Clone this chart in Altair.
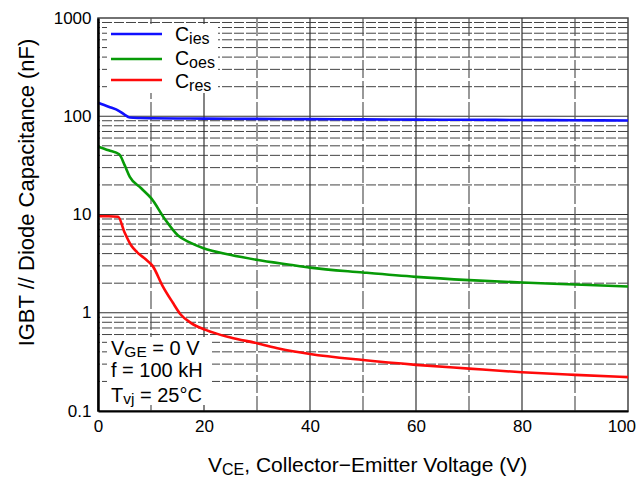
import altair as alt
import pandas as pd

FONT = "Liberation Sans"

# ---- data ----
V_ies = [0, 2, 4, 5, 6, 8, 10, 15, 20, 30, 40, 50, 60, 70, 80, 90, 100]
C_ies = [137, 125, 113, 104, 97, 96, 95.5, 95, 94.5, 94, 93.5, 93, 92.5, 92, 91.5, 91, 90.5]

V_oes = [0, 2, 4, 5, 6, 8.1, 10.1, 12.6, 15.1, 17.3, 19.9, 24.9, 29.9, 36.2, 40, 50, 60, 70, 80, 90, 100]
C_oes = [49, 45, 41, 32, 24.2, 18.6, 14.5, 9.0, 6.1, 5.2, 4.53, 3.89, 3.46, 3.08, 2.88, 2.57, 2.32, 2.15, 2.03, 1.94, 1.85]

V_res = [0, 2, 3.8, 5.0, 6.3, 7.4, 9.0, 10.3, 12.2, 14.1, 15.6, 17.5, 20.3, 25, 30, 34.3, 40, 50, 60, 70, 80, 90, 100]
C_res = [9.6, 9.6, 9.5, 6.6, 4.8, 4.12, 3.5, 3.0, 1.87, 1.27, 0.96, 0.79, 0.67, 0.56, 0.49, 0.43, 0.38, 0.33, 0.295, 0.27, 0.248, 0.233, 0.221]

series_names = ["Cies", "Coes", "Cres"]
series_colors = ["#1010ff", "#079a07", "#ff0a0a"]

x_ticks = [0, 20, 40, 60, 80, 100]
y_ticks = [0.1, 1, 10, 100, 1000]
y_major = [1, 10, 100]
y_minor = [m * 10 ** e for e in range(-1, 3) for m in range(2, 10)]
x_solid = [20, 40, 60, 80]
x_dashed = [10, 30, 50, 70, 90]

df = pd.concat([
    pd.DataFrame({"V": V_ies, "C": C_ies, "series": "Cies"}),
    pd.DataFrame({"V": V_oes, "C": C_oes, "series": "Coes"}),
    pd.DataFrame({"V": V_res, "C": C_res, "series": "Cres"}),
])

xscale = alt.Scale(domain=[0, 100], nice=False, zero=False)
yscale = alt.Scale(type="log", domain=[0.1, 1000], nice=False)

xaxis = alt.Axis(values=x_ticks, format="d", title=None, grid=False, ticks=False, tickSize=0,
                 labelFont=FONT, labelFontSize=17, labelColor="black", labelPadding=7,
                 labelAlign={"condition": {"test": "datum.value == 100", "value": "right"}, "value": "center"},
                 labelOffset={"condition": {"test": "datum.value == 100", "value": 7.5}, "value": 0},
                 labelFlush=False, labelOverlap=False, domainColor="black", domainWidth=2.2, zindex=1)
yaxis = alt.Axis(values=y_ticks, format="~g", grid=False, ticks=False, tickSize=0,
                 labelFont=FONT, labelFontSize=17, labelColor="black", labelPadding=7,
                 labelFlush=False, labelOverlap=False, domainColor="black", domainWidth=2.5, zindex=1,
                 title="IGBT // Diode Capacitance (nF)", titleFont=FONT, titleFontSize=22,
                 titleFontWeight="normal", titleColor="black", titleX=-72, titleY=174,
                 titleAlign="center", titleBaseline="middle")


def X(field):
    return alt.X(field, type="quantitative", scale=xscale, axis=xaxis)


def Y(field):
    return alt.Y(field, type="quantitative", scale=yscale, axis=yaxis)


layers = []

# grid
layers.append(alt.Chart(pd.DataFrame({"y": y_minor})).mark_rule(
    color="#444", strokeWidth=1, strokeDash=[10, 2]).encode(y=Y("y")))
layers.append(alt.Chart(pd.DataFrame({"y": y_major})).mark_rule(
    color="#333", strokeWidth=1.2).encode(y=Y("y")))
layers.append(alt.Chart(pd.DataFrame({"x": x_dashed})).mark_rule(
    color="#555", strokeWidth=1.2, strokeDash=[18, 3]).encode(x=X("x")))
layers.append(alt.Chart(pd.DataFrame({"x": x_solid})).mark_rule(
    color="#333", strokeWidth=1.2).encode(x=X("x")))

one = pd.DataFrame({"a": [0]})

# white boxes (legend and conditions)
layers.append(alt.Chart(one).mark_rect(color="white").encode(
    x=alt.value(9), x2=alt.value(120), y=alt.value(6), y2=alt.value(75)))
layers.append(alt.Chart(one).mark_rect(color="white").encode(
    x=alt.value(9), x2=alt.value(114), y=alt.value(319), y2=alt.value(387)))

# curves
layers.append(alt.Chart(df).mark_line(strokeWidth=2.6, interpolate="monotone").encode(
    x=X("V"), y=Y("C"),
    color=alt.Color("series:N", scale=alt.Scale(domain=series_names, range=series_colors), legend=None),
    order=alt.Order("V:Q")))

# legend samples
leg_y = [16, 41, 62]
for col, yy in zip(series_colors, leg_y):
    layers.append(alt.Chart(one).mark_rule(strokeWidth=2.6, color=col).encode(
        x=alt.value(13), x2=alt.value(64), y=alt.value(yy)))

# text helper (Arial/Liberation advance widths, em units)
W = {" ": .278, "(": .333, ")": .333, ",": .278, "/": .278, "=": .584, "°": .4, "−": .584,
     "0": .556, "1": .556, "2": .556, "5": .556, "A": .667, "B": .667, "C": .722, "D": .722,
     "E": .667, "F": .611, "G": .778, "H": .722, "I": .278, "T": .611, "V": .667,
     "a": .556, "c": .5, "e": .556, "f": .278, "g": .556, "h": .556, "i": .222, "j": .222,
     "k": .5, "l": .222, "m": .833, "n": .556, "o": .556, "p": .556, "r": .333, "s": .5,
     "t": .278, "v": .5}


def tw(s, size):
    return sum(W.get(c, .556) for c in s) * size


def run(parts, x0, y0):
    x = x0
    for text, size, dy in parts:
        lead = len(text) - len(text.lstrip(" "))
        x += lead * W[" "] * size
        body = text.lstrip(" ")
        layers.append(alt.Chart(one).mark_text(
            align="left", baseline="alphabetic", font=FONT, fontSize=size, color="black").encode(
            x=alt.value(x), y=alt.value(y0 + dy), text=alt.value(body)))
        x += tw(body, size)


# legend labels
leg_sub = ["ies", "oes", "res"]
leg_base = [23, 47, 70]
for sub, yb in zip(leg_sub, leg_base):
    run([("C", 19.5, 0), (sub, 16, 3)], 77, yb)

# conditions
run([("V", 20, 0), ("GE", 15.5, 2), (" = 0 V", 20, 0)], 13, 337)
run([("f = 100 kH", 20, 0)], 13, 359)
run([("T", 20, 0), ("vj", 15.5, 2.5), (" = 25°C", 20, 0)], 13, 383.5)

# x-axis title
run([("V", 21, 0), ("CE", 16, 3.5), (", Collector−Emitter Voltage (V)", 21, 0)], 110, 453.5)

chart = alt.layer(*layers).properties(
    width=530, height=393,
    autosize=alt.AutoSizeParams(type="none"),
    padding={"left": 90, "top": 10, "right": 8, "bottom": 66},
).configure_view(stroke="#444", strokeWidth=1.5)

chart.save("out.html", embed_options={"renderer": "svg", "actions": False})
